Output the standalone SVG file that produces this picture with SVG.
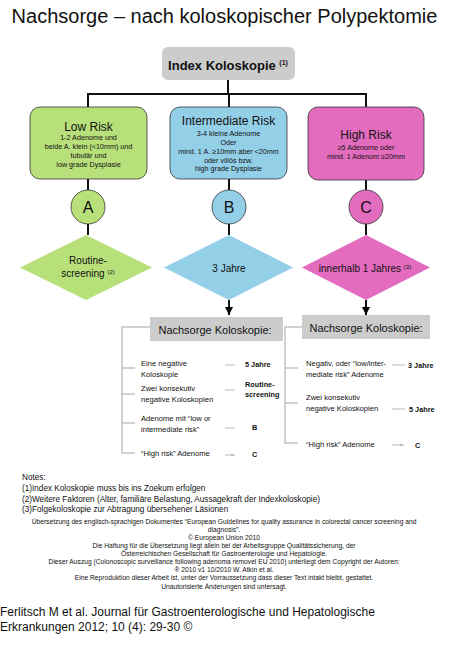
<svg xmlns="http://www.w3.org/2000/svg" width="450" height="661" viewBox="0 0 450 661">
<defs>
<marker id="ah" viewBox="0 0 10 10" refX="10" refY="5" markerWidth="4" markerHeight="4" orient="auto" markerUnits="strokeWidth"><path d="M0,0 L10,5 L0,10 z" fill="#000"/></marker>
<marker id="gh" viewBox="0 0 10 10" refX="10" refY="5" markerWidth="4" markerHeight="4" orient="auto"><path d="M0,1 L10,5 L0,9 z" fill="#bbb"/></marker>
<style>
text{font-family:"Liberation Sans",Arial,sans-serif;fill:#111}
.c{text-anchor:middle}
.conn{stroke:#111;stroke-width:2;fill:none}
.br{stroke:#c4c4c4;stroke-width:1.5;fill:none}
.sa{stroke:#bbb;stroke-width:1;fill:none}
.gray{fill:#cccccc}
.box{stroke:#333;stroke-width:0.8}
.h{font-size:12px}
.s{font-size:7.2px}
.f{font-size:7.6px}
.lbl{font-size:10px}
.rb{font-size:7.3px;font-weight:bold}
.n{font-size:8.2px}
.t{font-size:6.7px}
</style>
</defs>
<rect width="450" height="661" fill="#fff"/>
<text x="224.5" y="23" class="c" font-size="20">Nachsorge – nach koloskopischer Polypektomie</text>

<g id="connectors">
<path class="conn" d="M228,80 V94 M88,94 H366 M88,93 V107 M229,93 V107 M366,93 V107"/>
<path class="conn" d="M88,179 V190 M229,179 V190 M366,180 V190"/>
<path class="conn" d="M88,224 V235 M229,224 V235 M366,224 V235"/>
<path class="conn" d="M229,300 V315" marker-end="url(#ah)"/>
<path class="conn" d="M366,300 V315" marker-end="url(#ah)"/>
</g>

<g id="index"><rect x="162" y="47" width="133" height="33" rx="6" class="gray"/><text x="228" y="70" class="c" font-size="13" font-weight="bold">Index Koloskopie <tspan font-size="7" dy="-5">(1)</tspan></text></g>

<g id="low"><rect x="30" y="107" width="117" height="72" rx="10" fill="#b8e07a" class="box"/>
<text x="88.5" y="131" class="c h">Low Risk</text>
<text x="88.5" y="140" class="c s">1-2 Adenome und</text>
<text x="88.5" y="149" class="c s">beide A. klein (&lt;10mm) und</text>
<text x="88.5" y="158" class="c s">tubulär und</text>
<text x="88.5" y="167" class="c s">low grade Dysplasie</text></g>

<g id="inter"><rect x="170" y="107" width="117" height="72" rx="10" fill="#93d0e8" class="box"/>
<text x="228.5" y="125" class="c h">Intermediate Risk</text>
<text x="228.5" y="136" class="c s">3-4 kleine Adenome</text>
<text x="228.5" y="144.5" class="c s">Oder</text>
<text x="228.5" y="154" class="c s">mind. 1 A. ≥10mm aber &lt;20mm</text>
<text x="228.5" y="162.5" class="c s">oder villös bzw.</text>
<text x="228.5" y="171" class="c s">high grade Dysplasie</text></g>

<g id="high"><rect x="308" y="107" width="116" height="73" rx="10" fill="#e36cbf" class="box"/>
<text x="366" y="139" class="c h">High Risk</text>
<text x="366" y="149.5" class="c s">≥5 Adenome oder</text>
<text x="366" y="158.5" class="c s">mind. 1 Adenom ≥20mm</text></g>

<g id="A"><circle cx="88" cy="207" r="17" fill="#b8e07a" class="box"/><text x="88" y="213" class="c" font-size="16">A</text></g>
<g id="B"><circle cx="229" cy="207" r="17" fill="#93d0e8" class="box"/><text x="229" y="213" class="c" font-size="16">B</text></g>
<g id="C"><circle cx="366" cy="207" r="17" fill="#e36cbf" class="box"/><text x="366" y="213" class="c" font-size="16">C</text></g>

<g id="dA"><polygon points="86,235 152,267.5 86,300 20,267.5" fill="#b8e07a"/>
<text x="88" y="264" class="c lbl">Routine-</text>
<text x="88" y="276.5" class="c lbl">screening <tspan font-size="6" dy="-3">(2)</tspan></text></g>
<g id="dB"><polygon points="229,235 293,267.5 229,300 164,267.5" fill="#93d0e8"/>
<text x="229" y="271.5" class="c lbl">3 Jahre</text></g>
<g id="dC"><polygon points="366,235 430,267.5 366,300 302,267.5" fill="#e36cbf"/>
<text x="365" y="271.5" class="c lbl">innerhalb 1 Jahres <tspan font-size="6" dy="-3">(3)</tspan></text></g>

<g id="left-follow">
<rect x="150" y="317" width="133" height="24" class="gray"/>
<text x="215" y="333.5" class="c" font-size="11">Nachsorge Koloskopie:</text>
<path class="br" d="M150,327 H122 V453 H135 M122,368 H135 M122,394 H135 M122,423 H135"/>
<text x="141" y="366" class="f">Eine negative</text>
<text x="141" y="377" class="f">Koloskopie</text>
<text x="141" y="391" class="f">Zwei konsekutiv</text>
<text x="141" y="402" class="f">negative Koloskopien</text>
<text x="141" y="421" class="f">Adenome mit “low or</text>
<text x="141" y="432" class="f">intermediate risk”</text>
<text x="141" y="456" class="f">“High risk” Adenome</text>
<path class="sa" d="M225,365 H235 M225,390 H235 M225,428 H235 M225,455 H235" marker-end="url(#gh)"/>
<text x="245" y="366.5" class="rb">5 Jahre</text>
<text x="245" y="387" class="rb">Routine-</text>
<text x="245" y="397" class="rb">screening</text>
<text x="252" y="430" class="rb">B</text>
<text x="252" y="457" class="rb">C</text>
</g>

<g id="right-follow">
<rect x="302" y="315" width="128" height="24" class="gray"/>
<text x="366" y="331.5" class="c" font-size="11">Nachsorge Koloskopie:</text>
<path class="br" d="M302,327 H285 V443 H298 M285,368 H298 M285,403 H298"/>
<text x="306" y="366" class="f">Negativ, oder “low/inter-</text>
<text x="306" y="377" class="f">mediate risk” Adenome</text>
<text x="306" y="400" class="f">Zwei konsekutiv</text>
<text x="306" y="411" class="f">negative Koloskopien</text>
<text x="306" y="447" class="f">“High risk” Adenome</text>
<path class="sa" d="M392,365 H405 M392,409 H405 M392,445 H404" marker-end="url(#gh)"/>
<text x="408" y="367.5" class="rb">3 Jahre</text>
<text x="409" y="411.5" class="rb">5 Jahre</text>
<text x="415" y="448" class="rb">C</text>
</g>

<g id="notes">
<text x="22" y="480" class="n">Notes:</text>
<text x="22" y="491" class="n">(1)Index Koloskopie muss bis ins Zoekum erfolgen</text>
<text x="22" y="502" class="n">(2)Weitere Faktoren (Alter, familiäre Belastung, Aussagekraft der Indexkoloskopie)</text>
<text x="22" y="512" class="n">(3)Folgekoloskopie zur Abtragung übersehener Läsionen</text>
</g>

<g id="translation">
<text x="224" y="524" class="c t">Übersetzung des englisch-sprachigen Dokumentes “European Guidelines for quality assurance in colorectal cancer screening and</text>
<text x="224" y="532" class="c t">diagnosis”.</text>
<text x="224" y="540" class="c t">© European Union 2010</text>
<text x="224" y="548" class="c t">Die Haftung für die Übersetzung liegt allein bei der Arbeitsgruppe Qualitätssicherung, der</text>
<text x="224" y="556" class="c t">Österreichischen Gesellschaft für Gastroenterologie und Hepatologie.</text>
<text x="224" y="564" class="c t">Dieser Auszug (Colonoscopic surveillance following adenoma removel EU 2010) unterliegt dem Copyright der Autoren:</text>
<text x="224" y="572" class="c t">® 2010 v1 10/2010 W. Atkin et al.</text>
<text x="224" y="580" class="c t">Eine Reproduktion dieser Arbeit ist, unter der Vorraussetzung dass dieser Text intakt bleibt, gestattet.</text>
<text x="224" y="589" class="c t">Unautorisierte Änderungen sind untersagt.</text>
</g>

<g id="footer">
<text x="0" y="616" font-size="12">Ferlitsch M  et al. Journal für Gastroenterologische und Hepatologische</text>
<text x="0" y="631" font-size="12">Erkrankungen 2012; 10 (4): 29-30 ©</text>
</g>
</svg>
